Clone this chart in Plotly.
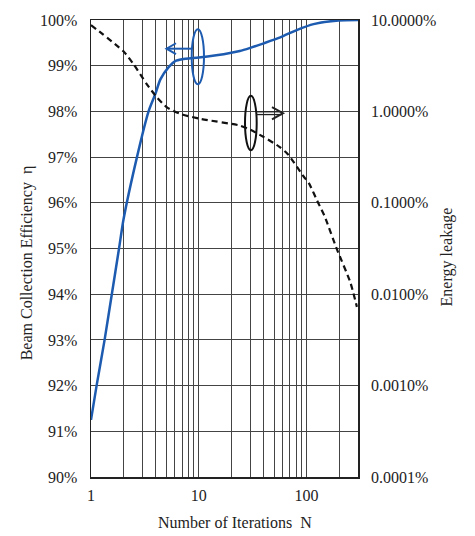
import plotly.graph_objects as go

# Beam collection efficiency (left axis, %)
eff_n = [1, 1.127, 1.337, 1.56, 1.82, 2.0, 2.67, 3.42, 3.95, 4.4, 5.25, 6.04, 7.0, 10, 17, 24, 30, 40, 57, 81, 116, 198, 300]
eff_pct = [91.25, 92.0, 93.0, 94.0, 95.0, 95.63, 97.0, 98.0, 98.38, 98.7, 98.97, 99.1, 99.14, 99.18, 99.25, 99.32, 99.39, 99.49, 99.62, 99.78, 99.91, 99.99, 100.0]

# Energy leakage (right axis, %)
leak_n = [1, 2, 2.49, 3.3, 4.1, 5.07, 6.74, 10.4, 24, 30, 40, 56, 67, 94, 105, 128, 147, 191, 254, 293]
leak_pct = [8.8, 4.54, 3.26, 1.98, 1.42, 1.107, 0.938, 0.828, 0.70, 0.63, 0.524, 0.41, 0.34, 0.194, 0.164, 0.1, 0.0714, 0.0311, 0.0136, 0.00727]

x_grid = [1, 2, 3, 4, 5, 6, 7, 8, 9, 10, 20, 30, 40, 50, 60, 70, 80, 90, 100, 200]
x_labels = {1: "1", 10: "10", 100: "100"}
left_ticks = [90, 91, 92, 93, 94, 95, 96, 97, 98, 99, 100]
right_ticks = [0.0001, 0.001, 0.01, 0.1, 1, 10]
right_labels = ["0.0001%", "0.0010%", "0.0100%", "0.1000%", "1.0000%", "10.0000%"]

FONT = "Liberation Serif"
GRID = "#444444"
BLUE = "#1d5bb0"
TICKFONT = dict(family=FONT, size=16, color="#222222")

fig = go.Figure()
fig.add_trace(go.Scatter(x=eff_n, y=eff_pct, mode="lines", line=dict(color=BLUE, width=2.5, shape="spline", smoothing=0.6),
                         yaxis="y", showlegend=False, hoverinfo="skip"))
fig.add_trace(go.Scatter(x=leak_n, y=leak_pct, mode="lines", line=dict(color="#111111", width=2.2, dash="6px,4px", shape="spline", smoothing=0.6),
                         yaxis="y2", showlegend=False, hoverinfo="skip"))

L, R, T, B = 91, 117, 15, 59
W, H = 475, 536
pw, ph = W - L - R, H - T - B

def px(x):
    return (x - L) / pw

def py(y):
    return (H - B - y) / ph

shapes = [
    # blue ellipse and left arrow
    dict(type="circle", xref="paper", yref="paper", x0=px(191.7), x1=px(204), y0=py(80), y1=py(24.3),
         line=dict(color=BLUE, width=2)),
    dict(type="line", xref="paper", yref="paper", x0=px(192), x1=px(167.5), y0=py(44), y1=py(44),
         line=dict(color=BLUE, width=2)),
    dict(type="path", xref="paper", yref="paper",
         path=f"M {px(176)},{py(38.5)} L {px(166.5)},{py(44)} L {px(176)},{py(49.5)}",
         line=dict(color=BLUE, width=2)),
    # black ellipse and right arrow
    dict(type="circle", xref="paper", yref="paper", x0=px(245), x1=px(256.7), y0=py(146.7), y1=py(91.7),
         line=dict(color="#111111", width=2)),
    dict(type="line", xref="paper", yref="paper", x0=px(256.5), x1=px(282), y0=py(107.8), y1=py(107.8),
         line=dict(color="#222222", width=1.3)),
    dict(type="line", xref="paper", yref="paper", x0=px(256.5), x1=px(282), y0=py(110.6), y1=py(110.6),
         line=dict(color="#222222", width=1.3)),
    dict(type="path", xref="paper", yref="paper",
         path=f"M {px(272)},{py(103)} L {px(283)},{py(109.2)} L {px(272)},{py(115.4)}",
         line=dict(color="#222222", width=2)),
]

annotations = [
    dict(text="Beam Collection Efficiency  η", xref="paper", yref="paper", x=px(27), y=py(261),
         textangle=-90, showarrow=False, font=dict(family=FONT, size=16, color="#222222"),
         xanchor="center", yanchor="middle"),
    dict(text="Energy leakage", xref="paper", yref="paper", x=px(447), y=py(255),
         textangle=-90, showarrow=False, font=dict(family=FONT, size=16, color="#222222"),
         xanchor="center", yanchor="middle"),
    dict(text="Number of Iterations  N", xref="paper", yref="paper", x=px(235), y=py(523),
         showarrow=False, font=dict(family=FONT, size=16, color="#222222"),
         xanchor="center", yanchor="middle"),
]

fig.update_layout(
    width=W, height=H,
    margin=dict(l=L, r=R, t=T, b=B, pad=0),
    paper_bgcolor="white", plot_bgcolor="white",
    font=dict(family=FONT, size=16, color="#222222"),
    hovermode=False,
    xaxis=dict(type="log", range=[0, 2.4771], tickvals=x_grid,
               ticktext=[x_labels.get(v, "") for v in x_grid], tickfont=TICKFONT,
               showgrid=True, gridcolor=GRID, gridwidth=1,
               showline=True, linecolor="#222222", linewidth=1.5, mirror=True,
               ticks="", ticklabelstandoff=3, zeroline=False),
    yaxis=dict(range=[90, 100], tickvals=left_ticks, ticktext=[f"{v}%" for v in left_ticks], tickfont=TICKFONT,
               showgrid=True, gridcolor=GRID, gridwidth=1,
               showline=True, linecolor="#222222", linewidth=1.5, mirror=True,
               ticks="", ticklabelstandoff=9, zeroline=False),
    yaxis2=dict(type="log", range=[-4, 1], overlaying="y", side="right",
                tickvals=right_ticks, ticktext=right_labels, tickfont=TICKFONT, showgrid=False,
                ticks="", ticklabelstandoff=12, zeroline=False, showline=False),
    shapes=shapes,
    annotations=annotations,
    showlegend=False,
)

fig.write_html("out.html", config={"displayModeBar": False, "staticPlot": True},
               post_script="document.body.style.margin='0';document.body.style.padding='0';")
